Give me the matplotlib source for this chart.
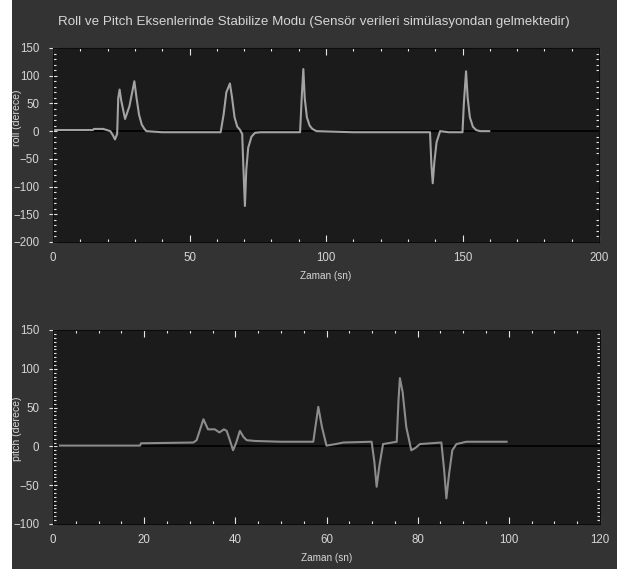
import matplotlib.pyplot as plt
from matplotlib.ticker import MultipleLocator
from matplotlib.patches import Rectangle

plt.rcParams['font.family'] = ['Liberation Sans', 'DejaVu Sans']

TITLE = "Roll ve Pitch Eksenlerinde Stabilize Modu (Sensör verileri simülasyondan gelmektedir)"

# roll data
roll_t = [0, 14.6, 15.0, 18.4, 21.0, 22.0, 22.7, 23.5, 23.9, 24.4, 25.0, 26.4, 28.0, 29.8,
          30.6, 31.5, 32.5, 33.5, 34.2, 40, 50, 61.4, 62.5, 63.5, 64.8, 65.6, 66.5, 67.5,
          68.4, 69.3, 69.7, 70.3, 70.8, 71.5, 72.7, 74.0, 76, 85, 90.5, 91.1, 91.7, 92.2,
          93.0, 94.0, 95.0, 96.5, 110, 125, 138.1, 138.6, 139.1, 139.7, 140.5, 141.8, 145,
          150.0, 150.5, 151.3, 151.9, 152.7, 153.8, 155.0, 156.4, 159.8]
roll_v = [2, 2, 4, 4, 0, -8, -15, -5, 60, 75, 55, 22, 45, 90,
          60, 30, 12, 4, 0, -2, -2, -2, 30, 70, 86, 60, 25, 8,
          3, -5, -60, -135, -70, -30, -10, -3, -2, -2, -2, 60, 112, 60,
          25, 10, 4, 0, -2, -2, -2, -60, -94, -55, -20, 0, -2,
          -2, 50, 108, 60, 25, 8, 2, 0, 0]

# pitch data
pitch_t = [1.5, 19.1, 19.3, 30.8, 31.5, 33.0, 34.0, 35.5, 36.5, 37.5, 38.1, 38.8, 39.5,
           40.2, 41.0, 41.8, 42.5, 44.3, 50, 57.1, 58.2, 59.0, 60.0, 62.0, 63.7, 69.9,
           70.5, 71.0, 71.6, 72.4, 75.4, 75.8, 76.1, 76.7, 77.5, 78.6, 79.5, 80.5, 85.2,
           85.8, 86.3, 86.9, 87.6, 88.5, 90.7, 99.5]
pitch_v = [1, 1, 4, 5, 8, 35, 22, 22, 18, 22, 20, 8, -5,
           5, 20, 12, 8, 7, 6, 6, 51, 25, 1, 3, 5, 6,
           -20, -52, -25, 3, 6, 60, 88, 70, 25, -5, -2, 3, 5,
           -30, -67, -35, -5, 3, 6, 6]

FIG_BG = '#333333'
AX_BG = '#1b1b1b'
TXT = '#d6d6d6'

W, H = 617, 569
fig = plt.figure(figsize=(W / 100, H / 100), dpi=100, facecolor=FIG_BG)
fig.patches.append(Rectangle((0, 0), 12 / W, 1, transform=fig.transFigure,
                             facecolor='white', edgecolor='none', zorder=0))

ax1 = fig.add_axes([53 / W, 1 - 242 / H, (599 - 53) / W, (242 - 48) / H], facecolor=AX_BG)
ax2 = fig.add_axes([53 / W, 1 - 524 / H, (600 - 53) / W, (524 - 330) / H], facecolor=AX_BG)

fig.text(314 / W, 1 - 22 / H, TITLE, ha='center', va='center', color=TXT, fontsize=9.6)


def style(ax, ylabel, ypos, xmaj, xmin, ymaj, ymin):
    for s in ax.spines.values():
        s.set_color('#0c0c0c')
    ax.axhline(0, color='black', lw=1.2, zorder=1)
    ax.xaxis.set_major_locator(MultipleLocator(xmaj))
    ax.xaxis.set_minor_locator(MultipleLocator(xmin))
    ax.yaxis.set_major_locator(MultipleLocator(ymaj))
    ax.yaxis.set_minor_locator(MultipleLocator(ymin))
    ax.tick_params(which='both', colors='#e6e6e6', labelcolor=TXT, labelsize=8.3,
                   top=True, right=True, direction='in')
    ax.tick_params(which='major', length=5, width=0.8)
    ax.tick_params(which='minor', length=2.5, width=0.8)
    ax.tick_params(axis='y', which='major', direction='inout', length=6, pad=7)
    ax.tick_params(axis='x', which='major', pad=7)
    ax.tick_params(axis='y', which='major', right=False)
    ax.set_xlabel('Zaman (sn)', color=TXT, fontsize=7.2, labelpad=5)
    ax.set_ylabel(ylabel, color=TXT, fontsize=7.6)
    ax.yaxis.set_label_coords(-31 / 546, ypos)


ax1.plot(roll_t, roll_v, color='#a3a3a3', lw=1.5, zorder=2)
ax1.set_xlim(0, 200)
ax1.set_ylim(-200, 150)
style(ax1, 'roll (derece)', 0.64, 50, 10, 50, 10)

ax2.plot(pitch_t, pitch_v, color='#8c8c8c', lw=1.5, zorder=2)
ax2.set_xlim(0, 120)
ax2.set_ylim(-100, 150)
style(ax2, 'pitch (derece)', 0.49, 20, 5, 50, 5)

fig.savefig('out.png', dpi=100, facecolor=FIG_BG)
